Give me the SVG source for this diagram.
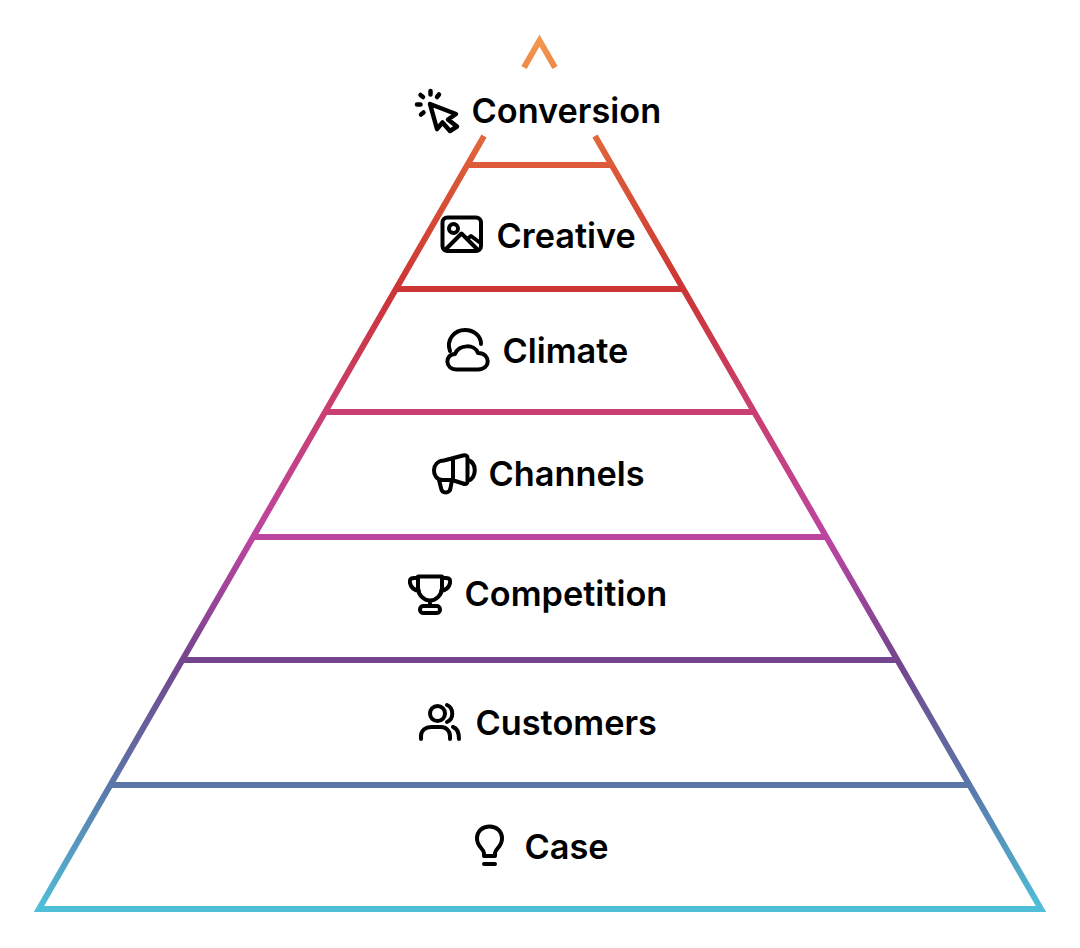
<svg xmlns="http://www.w3.org/2000/svg" width="1080" height="948" viewBox="0 0 1080 948">
<style>
.l{font-family:Inter,"Liberation Sans",sans-serif;font-weight:600;font-size:34.300px;fill:#000}
.i{fill:none;stroke:#000;stroke-width:4;stroke-linecap:round;stroke-linejoin:round}
.p{fill:none;stroke:url(#g);stroke-width:6}
</style>
<defs>
<linearGradient id="g" gradientUnits="userSpaceOnUse" x1="0" y1="35" x2="0" y2="912">
<stop offset="0" stop-color="#f3994f"/>
<stop offset="0.149" stop-color="#dc5a38"/>
<stop offset="0.291" stop-color="#cc3535"/>
<stop offset="0.43" stop-color="#c93f72"/>
<stop offset="0.573" stop-color="#bd45a0"/>
<stop offset="0.713" stop-color="#75458f"/>
<stop offset="0.855" stop-color="#5b76a8"/>
<stop offset="1" stop-color="#4fc0d8"/>
</linearGradient>
</defs>
<g id="connectors">
<path class="p" d="M524 67.500L539.500 40.500L555 67.500"/>
<path class="p" d="M484 136L39 909H1041L595 136"/>
<path class="p" d="M467 165H612M396 289H684M325 412H755M253 537H827M182 660H897M111 785H969"/>
</g>
<g id="conversion">
<path class="i" d="M430 104L456 114L448 119.500L457 126.500L450 131L442.500 122.500L437 129ZM430.500 91V94.500M439 94.500L437 97M420.500 95L423 97M417 104.500H420.500M421 114.500L423.500 112.500" style="stroke-width:4.500"/>
<text class="l" x="471.500" y="123">Conversion</text>
</g>
<g id="creative">
<rect class="i" x="442.500" y="217.500" width="38.500" height="33.500" rx="5"/>
<circle class="i" cx="453.500" cy="228.500" r="4.500"/>
<path class="i" d="M445 250L461.500 233.500L478 250M467 239L471 236L480.500 243"/>
<text class="l" x="496.500" y="247.500">Creative</text>
</g>
<g id="climate">
<path class="i" d="M450 351C446 340 454 330 465 330C474 330 481 336 481 344M457 369.500H478C491 369.500 491 353 478 353C475 344 459 344 455 354C445 354 444 369.500 457 369.500Z"/>
<text class="l" x="502.500" y="363">Climate</text>
</g>
<g id="channels">
<path class="i" d="M444 460.500L463 455.500C466 455 467.500 456 467.500 458V481C467.500 484 466 484.500 463 483.500L452 480H442C431 479 431 461 444 460.500ZM439 480L441 488C442 494 450 494 450.500 488L452 480M453 460V480M468 460C477 463 477 477 468 481"/>
<text class="l" x="488.500" y="486">Channels</text>
</g>
<g id="competition">
<path class="i" d="M418 576.500H442V588C442 595 436 600.500 430 600.500C424 600.500 418 595 418 588ZM418 578H414C410 578 409.500 580 410 583C411 588 414 590 419 591M442 578H446C450 578 450.500 580 450 583C449 588 446 590 441 591M430 601V606M423 606H437C441 606 441 613 437 613H423C419 613 419 606 423 606Z"/>
<text class="l" x="464.500" y="606">Competition</text>
</g>
<g id="customers">
<circle class="i" cx="437.500" cy="713.500" r="7.500"/>
<path class="i" d="M421 739V736C421 730 426 727 431 727H441C446 727 450 731 450 736V739M447 705C454 708 454 719 447 722M453 727C456 728 459 732 459 739"/>
<text class="l" x="475.500" y="735">Customers</text>
</g>
<g id="case">
<path class="i" d="M484 856V853C484 849 477 847 477 838.500C477 831 482.500 826.500 489.500 826.500C496.500 826.500 502 831 502 838.500C502 847 495 849 495 853V856ZM484 864H495"/>
<text class="l" x="524.500" y="858.500">Case</text>
</g>
</svg>
